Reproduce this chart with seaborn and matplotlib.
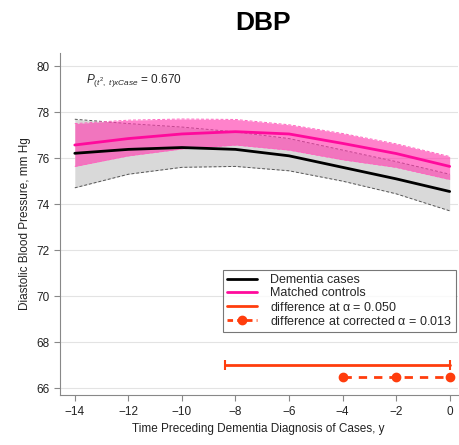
import numpy as np
import pandas as pd
import matplotlib
matplotlib.use('Agg')
import matplotlib.pyplot as plt
from matplotlib.lines import Line2D
import seaborn as sns

sns.set_style('white')
plt.rcParams['font.family'] = ['Liberation Sans', 'DejaVu Sans']
plt.rcParams['mathtext.fontset'] = 'custom'
plt.rcParams['mathtext.it'] = 'Liberation Sans:italic'
plt.rcParams['mathtext.rm'] = 'Liberation Sans'

# years before diagnosis
years = [-14, -12, -10, -8, -6, -4, -2, 0]

# dementia cases: fit and 95% band
case_mean = [76.21, 76.38, 76.46, 76.38, 76.10, 75.60, 75.10, 74.55]
case_upper = [77.69, 77.50, 77.35, 77.14, 76.85, 76.35, 75.85, 75.30]
case_lower = [74.71, 75.30, 75.60, 75.64, 75.45, 75.00, 74.45, 73.71]

# matched controls: fit and 95% band
ctrl_mean = [76.57, 76.85, 77.05, 77.15, 77.05, 76.64, 76.20, 75.64]
ctrl_upper = [77.50, 77.65, 77.70, 77.68, 77.45, 77.07, 76.62, 76.07]
ctrl_lower = [75.64, 76.10, 76.40, 76.57, 76.35, 75.93, 75.60, 75.07]

# significant difference intervals
diff_050 = [-8.4, 0]
diff_013 = [-4, -2, 0]

df = pd.DataFrame({'year': years * 2,
                   'dbp': case_mean + ctrl_mean,
                   'group': ['Dementia cases'] * 8 + ['Matched controls'] * 8})

pink = '#ff0a9c'
orange = '#ff3d0d'

fig = plt.figure(figsize=(4.6, 4.45), dpi=100)
ax = fig.add_axes([0.130, 0.112, 0.865, 0.769])

ax.fill_between(years, case_lower, case_upper, color='#d9d9d9', lw=0, zorder=1)
ax.plot(years, case_upper, color='#555555', ls=(0, (3, 2)), lw=0.7, zorder=2)
ax.plot(years, case_lower, color='#555555', ls=(0, (3, 2)), lw=0.7, zorder=2)
ax.fill_between(years, ctrl_lower, ctrl_upper, color='#ff3fb0', alpha=0.65, lw=0, zorder=3)
ax.plot(years, ctrl_upper, color='#ff66c0', ls=(0, (3, 2)), lw=0.7, zorder=3)
ax.plot(years, ctrl_lower, color='#ff66c0', ls=(0, (3, 2)), lw=0.7, zorder=3)

sns.lineplot(data=df, x='year', y='dbp', hue='group',
             palette={'Dementia cases': 'black', 'Matched controls': pink},
             lw=2, ax=ax, zorder=4, legend=False)

ax.plot(diff_050, [67.03, 67.03], '-', color=orange, lw=2, zorder=5)
ax.plot(diff_050, [67.03, 67.03], '|', color=orange, ms=7, mew=1.5, zorder=5)
ax.plot(diff_013, [66.5] * 3, '--', color=orange, lw=2, marker='o', ms=6,
        dashes=(3, 2.5), zorder=5)

handles = [Line2D([], [], color='black', lw=2),
           Line2D([], [], color=pink, lw=2),
           Line2D([], [], color=orange, lw=2),
           Line2D([], [], color=orange, lw=2, ls='--', marker='o', ms=6, dashes=(2, 1.5))]
labels = ['Dementia cases', 'Matched controls',
          r'difference at $\mathrm{\alpha}$ = 0.050',
          r'difference at corrected $\mathrm{\alpha}$ = 0.013']
leg = ax.legend(handles, labels, loc='upper right', bbox_to_anchor=(1.012, 0.385),
                fontsize=9, frameon=True, fancybox=False, edgecolor='#555555',
                borderpad=0.35, labelspacing=0.1, handlelength=2.4, handletextpad=1.0)
leg.get_frame().set_linewidth(0.8)

ax.text(-13.6, 79.25, r'$P_{(t^2,\ t)xCase}$ = 0.670', fontsize=8.5)

ax.set_xlim(-14.56, 0.3)
ax.set_ylim(65.7, 80.57)
ax.set_xticks(range(-14, 1, 2))
ax.set_yticks(range(66, 81, 2))
ax.grid(axis='y', color='#e3e3e3', lw=0.8)
ax.set_axisbelow(True)
sns.despine(ax=ax)
for s in ['left', 'bottom']:
    ax.spines[s].set_color('#888888')
    ax.spines[s].set_linewidth(0.8)
ax.tick_params(axis='both', direction='out', length=4, width=0.8, color='#888888',
               labelsize=8.5, labelcolor='#222222', left=True, bottom=True)
ax.set_xlabel('Time Preceding Dementia Diagnosis of Cases, y', fontsize=8.5, color='#222222')
ax.set_ylabel('Diastolic Blood Pressure, mm Hg', fontsize=8.5, color='#222222')
fig.suptitle('DBP', fontsize=19, fontweight='bold', color='black', x=0.572, y=0.975)

fig.savefig('out.png', dpi=100)
